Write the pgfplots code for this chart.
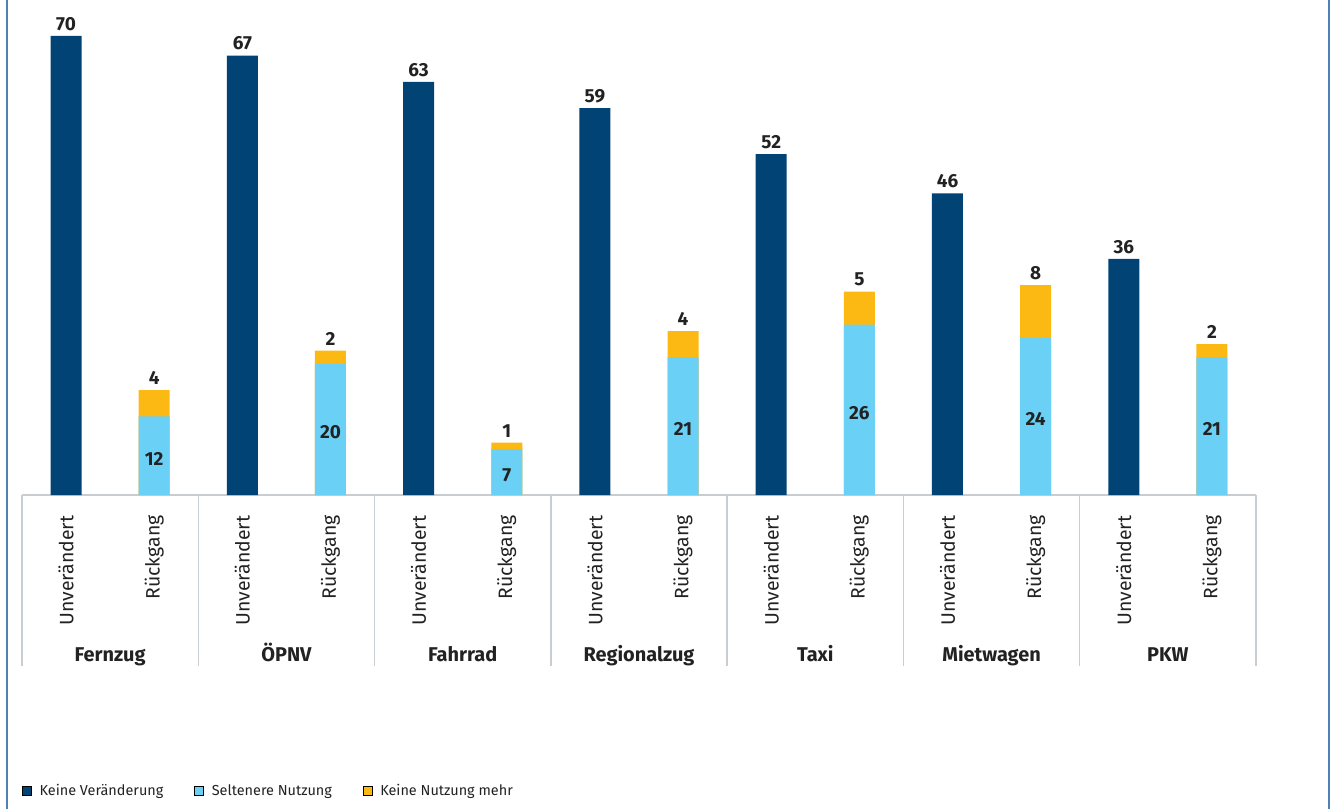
\documentclass[border=0pt]{standalone}
\usepackage{pgfplots}
\pgfplotsset{compat=1.18}
\usepackage{fontspec}
\setmainfont{Fira Sans}
\definecolor{dunkelblau}{HTML}{004374}
\definecolor{hellblau}{HTML}{6BD0F5}
\definecolor{gelb}{HTML}{FDB913}
\definecolor{textcol}{HTML}{222222}
\definecolor{linie}{HTML}{C8CDD2}
\definecolor{rahmen}{HTML}{4F81B4}

\newcommand{\wert}{\fontsize{19}{21}\selectfont\bfseries}

\begin{document}
\begin{tikzpicture}
\useasboundingbox (0,0) rectangle (1331bp,809bp);
\begin{axis}[
    at={(22bp,314bp)}, anchor=south west,
    scale only axis,
    width=1234bp, height=459bp,
    xmin=0, xmax=14, ymin=0, ymax=70,
    clip=false,
    /pgf/number format/assume math mode=true,
    axis x line*=bottom, axis y line=none,
    x axis line style={linie, line width=1.5bp},
    ytick=\empty,
    major tick length=0pt,
    xtick={0.5,1.5,...,13.5},
    xticklabels={Unverändert,Rückgang,Unverändert,Rückgang,Unverändert,Rückgang,
      Unverändert,Rückgang,Unverändert,Rückgang,Unverändert,Rückgang,Unverändert,Rückgang},
    xticklabel style={yshift=-17bp, rotate=90, anchor=east, text=textcol,
      font=\fontsize{19.5}{21}\selectfont},
    extra x ticks={1,3,5,7,9,11,13},
    extra x tick labels={Fernzug,ÖPNV,Fahrrad,Regionalzug,Taxi,Mietwagen,PKW},
    extra x tick style={
      every x tick label/.style={anchor=base, yshift=-166bp, text=textcol,
        font=\fontsize{20}{22}\selectfont\bfseries}},
    ybar, bar shift=0pt, bar width=31bp,
    point meta=explicit,
    every node near coord/.style={yshift=2bp, text=textcol, font=\wert},
    legend columns=3,
    legend style={at={(axis description cs:0,-0.645)}, anchor=west,
      draw=none, fill=none, inner sep=0pt,
      font=\fontsize{14.5}{17}\selectfont, text=textcol,
      /tikz/every odd column/.append style={column sep=6bp},
      /tikz/every even column/.append style={column sep=29bp}},
    legend image code/.code={\fill[#1] (0bp,-4.5bp) rectangle (9bp,4.5bp);},
]
% Unveraendert
\addplot[fill=dunkelblau, draw=none, forget plot, nodes near coords] table[meta=m] {
x y m
0.5 70 70
2.5 67 67
4.5 63 63
6.5 59 59
8.5 52 52
10.5 46 46
12.5 36 36
};
% Rueckgang gesamt (Seltenere Nutzung + Keine Nutzung mehr)
\addplot[fill=gelb, draw=none, forget plot, nodes near coords] table[meta=m] {
x y m
1.5 16 4
3.5 22 2
5.5 8 1
7.5 25 4
9.5 31 5
11.5 32 8
13.5 23 2
};
% Seltenere Nutzung
\addplot[fill=hellblau, draw=none, forget plot] table[meta=m] {
x y m
1.5 12 12
3.5 20 20
5.5 7 7
7.5 21 21
9.5 26 26
11.5 24 24
13.5 21 21
};
% Beschriftung Seltenere Nutzung (Mitte der Balken)
\addplot[draw=none, fill=none, forget plot, nodes near coords,
  every node near coord/.style={anchor=center, yshift=-3bp, text=textcol, font=\wert}] table[meta=m] {
x y m
1.5 6 12
3.5 10 20
5.5 3.5 7
7.5 10.5 21
9.5 13 26
11.5 12 24
13.5 10.5 21
};
\addlegendimage{fill=dunkelblau}
\addlegendentry{Keine Veränderung}
\addlegendimage{fill=hellblau}
\addlegendentry{Seltenere Nutzung}
\addlegendimage{fill=gelb}
\addlegendentry{Keine Nutzung mehr}
\pgfplotsinvokeforeach{0,2,...,14}{
  \draw[linie, line width=1.5bp] (axis cs:#1,0) -- ++(0,-171bp);
}
\end{axis}
\draw[rahmen, line width=2bp] (7bp,0) -- (7bp,809bp);
\draw[rahmen, line width=2bp] (1329bp,0) -- (1329bp,809bp);
\end{tikzpicture}
\end{document}
